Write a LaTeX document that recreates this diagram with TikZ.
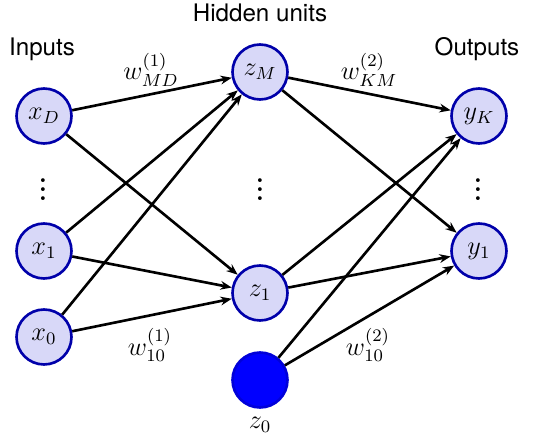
\documentclass[tikz,border=0pt]{standalone}
\usepackage{amsmath}
\usepackage{bm}
\usepackage{fontspec}
\setsansfont{TeX Gyre Heros}
\usepackage{xcolor}
\usepackage{tikz}
\usetikzlibrary{arrows.meta}

\definecolor{unitfill}{RGB}{216,216,248}
\definecolor{unitdraw}{RGB}{0,0,170}

\begin{document}
\begin{tikzpicture}[
        x=0.016cm, y=-0.016cm,
        mathtext/.style={font=\fontsize{12}{14}\selectfont},
        unit/.style={circle, draw=unitdraw, fill=unitfill, line width=1.2pt, minimum size=0.88cm, inner sep=0pt, mathtext},
        bias/.style={unit, fill=blue, draw=blue!85!black},
        title/.style={font=\fontsize{11}{13}\selectfont\sffamily},
        dotsnode/.style={font=\fontsize{12}{14}\selectfont, inner sep=0pt},
        arrow/.style={-{Stealth[length=0.18cm, width=0.14cm]}, line width=1.2pt, draw=black}
    ]
        \useasboundingbox (0,0) rectangle (541,445);

        % Titles
        \node[title] (hidtitle) at (260,13) {Hidden units};
        \node[title] (intitle) at (42,49) {Inputs};
        \node[title] (outtitle) at (477,49) {Outputs};

        % Inputs
        \node[unit] (xD) at (44,116) {$x_D$};
        \node[dotsnode] (xdots) at (43,183) {$\bm{\vdots}$};
        \node[unit] (x1) at (44,251) {$x_1$};
        \node[unit] (x0) at (44,337) {$x_0$};

        % Hidden units
        \node[unit] (zM) at (260,72) {$z_M$};
        \node[dotsnode] (zdots) at (260,183) {$\bm{\vdots}$};
        \node[unit] (z1) at (260,293) {$z_1$};
        \node[bias] (z0) at (260,380) {};
        \node[mathtext] (z0label) at (260,425) {$z_0$};

        % Outputs
        \node[unit] (yK) at (479,116) {$y_K$};
        \node[dotsnode] (ydots) at (478,183) {$\bm{\vdots}$};
        \node[unit] (y1) at (479,251) {$y_1$};

        % Connections
        \foreach \src in {xD,x1,x0}
            \foreach \dst in {zM,z1}
                \draw[arrow] (\src) -- (\dst);
        \foreach \src in {zM,z1,z0}
            \foreach \dst in {yK,y1}
                \draw[arrow] (\src) -- (\dst);

        % Weights
        \node[mathtext] (wMD) at (151,70) {$w^{(1)}_{MD}$};
        \node[mathtext] (wKM) at (369,70) {$w^{(2)}_{KM}$};
        \node[mathtext] (w10a) at (150,345) {$w^{(1)}_{10}$};
        \node[mathtext] (w10b) at (368,345) {$w^{(2)}_{10}$};

    \end{tikzpicture}
\end{document}
